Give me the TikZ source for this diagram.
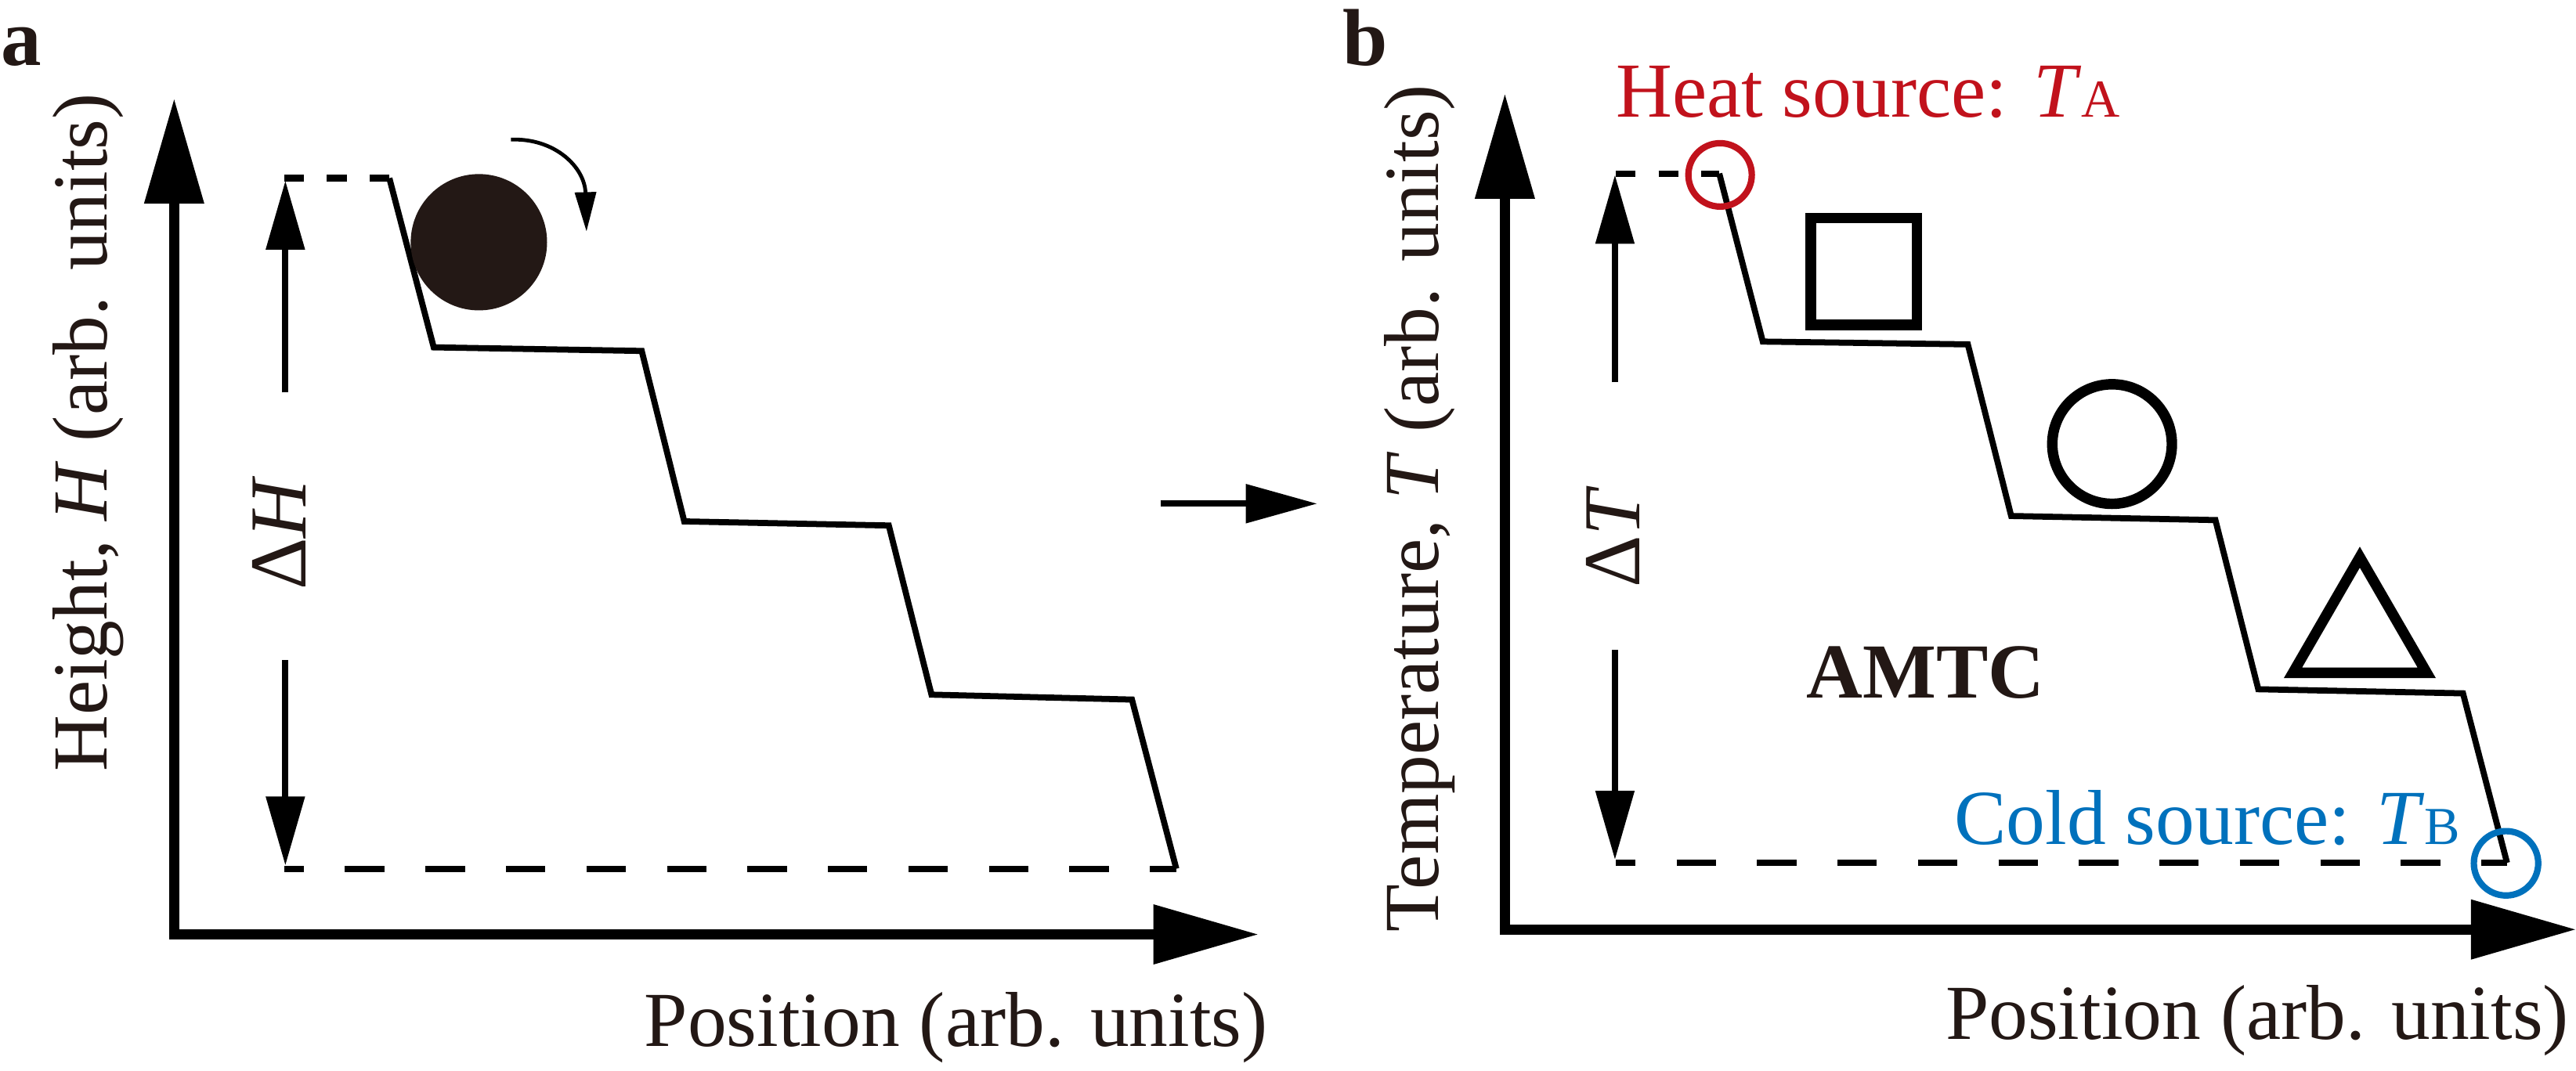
\documentclass[tikz,border=0pt]{standalone}
\usepackage{fontspec}
\setmainfont{Liberation Serif}
\usetikzlibrary{arrows.meta}
\definecolor{ink}{HTML}{231815}
\definecolor{hot}{HTML}{C1121C}
\definecolor{coldc}{HTML}{0071BC}
\begin{document}
\begin{tikzpicture}[x=0.02cm,y=-0.02cm,
  txt/.style={font=\fontsize{27}{32}\selectfont, text=ink, inner sep=0pt, outer sep=0pt},
  dtxt/.style={font=\fontsize{28}{32}\selectfont, text=ink, inner sep=0pt, outer sep=0pt},
  panel/.style={font=\fontsize{28}{32}\selectfont\bfseries, text=ink, inner sep=0pt, outer sep=0pt},
  axisline/.style={line width=0.12cm, -{Triangle[length=1.28cm,width=0.70cm]}},
  stair/.style={line width=0.074cm, line join=miter},
  longdash/.style={line width=0.078cm, dash pattern=on 0.48cm off 0.5cm, dash phase=0.24cm},
  shortdash/.style={line width=0.078cm, dash pattern=on 0.24cm off 0.28cm},
  spanarrow/.style={line width=0.074cm, -{Triangle[length=0.84cm,width=0.46cm]}},
  midarrow/.style={line width=0.076cm, -{Triangle[length=0.87cm,width=0.46cm]}},
  curlarrow/.style={line width=0.046cm, -{Triangle[length=0.48cm,width=0.254cm]}},
  shapeline/.style={line width=0.128cm, line join=miter},
  srcline/.style={line width=0.078cm},
]
\useasboundingbox (0,0) rectangle (1568,652);

% ---------------- panel a ----------------
\node[panel, anchor=base] (la) at (13,40) {a};
\coordinate (aYb) at (106,572);
\coordinate (aYt) at (106,60);
\coordinate (aXl) at (103,569);
\coordinate (aXt) at (766,569);
\draw[axisline] (aYb) -- (aYt);
\draw[axisline] (aXl) -- (aXt);
\node[txt, rotate=90, anchor=base] (aylab) at (65,263.4) {Height, \textit{H} (arb. units)};
\node[txt, anchor=base] (axlab) at (582,637) {Position (arb. units)};

\coordinate (aT0) at (173,108.5);
\coordinate (aS0) at (237,108.5);
\coordinate (aS1) at (264,211.5);
\coordinate (aS2) at (390.6,213.7);
\coordinate (aS3) at (416.5,317.5);
\coordinate (aS4) at (541,320);
\coordinate (aS5) at (567,423);
\coordinate (aS6) at (689,426);
\coordinate (aS7) at (716,529);
\coordinate (aB0) at (173,529);
\draw[shortdash] (aT0) -- (aS0);
\draw[longdash] (aB0) -- (aS7);
\draw[stair] (aS0) -- (aS1) -- (aS2) -- (aS3) -- (aS4) -- (aS5) -- (aS6) -- (aS7);

\coordinate (aU0) at (173.7,239);
\coordinate (aU1) at (173.7,110);
\coordinate (aD0) at (173.7,402);
\coordinate (aD1) at (173.7,527);
\draw[spanarrow] (aU0) -- (aU1);
\draw[spanarrow] (aD0) -- (aD1);
\node[dtxt, rotate=90, anchor=base] (dH) at (186,324.5) {Δ\textit{H}};

\fill[ink] (291.5,147.5) circle [radius=41.5];
\coordinate (c0) at (311,85);
\coordinate (c1) at (357,141);
\draw[curlarrow] (c0) .. controls (338,84) and (356,102) .. (c1);

% middle arrow
\coordinate (m0) at (706.4,306.7);
\coordinate (m1) at (801.8,306.7);
\draw[midarrow] (m0) -- (m1);

% ---------------- panel b ----------------
\node[panel, anchor=base] (lb) at (831,40) {b};
\coordinate (bYb) at (916,569);
\coordinate (bYt) at (916,57);
\coordinate (bXl) at (913,566);
\coordinate (bXt) at (1568,566);
\draw[axisline] (bYb) -- (bYt);
\draw[axisline] (bXl) -- (bXt);
\node[txt, rotate=90, anchor=base] (bylab) at (875.6,309.4) {Temperature, \textit{T} (arb. units)};
\node[txt, anchor=base] (bxlab) at (1374,633) {Position (arb. units)};

\coordinate (bT0) at (983.5,105.7);
\coordinate (bS0) at (1046.5,105.7);
\coordinate (bS1) at (1073,208);
\coordinate (bS2) at (1197.8,209.7);
\coordinate (bS3) at (1224.2,314.2);
\coordinate (bS4) at (1348.5,316.7);
\coordinate (bS5) at (1374.6,419.7);
\coordinate (bS6) at (1499.2,422.2);
\coordinate (bS7) at (1526,525.4);
\coordinate (bB0) at (983.5,525.4);
\draw[shortdash] (bT0) -- (bS0);
\draw[longdash] (bB0) -- (bS7);
\draw[stair] (bS0) -- (bS1) -- (bS2) -- (bS3) -- (bS4) -- (bS5) -- (bS6) -- (bS7);

\coordinate (bU0) at (983,232.7);
\coordinate (bU1) at (983,106.5);
\coordinate (bD0) at (983,395.8);
\coordinate (bD1) at (983,523.5);
\draw[spanarrow] (bU0) -- (bU1);
\draw[spanarrow] (bD0) -- (bD1);
\node[dtxt, rotate=90, anchor=base] (dT) at (998,327) {Δ\textit{T}};

\draw[hot, srcline] (1047,106.5) circle [radius=19.3];
\draw[coldc, srcline] (1525.4,525.7) circle [radius=19.6];
\node[txt, text=hot, anchor=base west] (heat) at (983.6,71.5) {Heat source: \textit{T}{\fontsize{18.5}{20}\selectfont A}};
\node[txt, text=coldc, anchor=base east] (cold) at (1497.5,514.2) {Cold source: \textit{T}{\fontsize{18.5}{20}\selectfont B}};

\draw[shapeline] (1102.2,132.7) rectangle (1166.8,197.8);
\draw[shapeline] (1285.6,270.4) circle [radius=36.4];
\draw[shapeline] (1436.4,339.3) -- (1395.7,409.7) -- (1477.1,409.7) -- cycle;

\node[txt, font=\fontsize{27}{32}\selectfont\bfseries, anchor=base] (amtc) at (1172,424.9) {AMTC};
\end{tikzpicture}
\end{document}
